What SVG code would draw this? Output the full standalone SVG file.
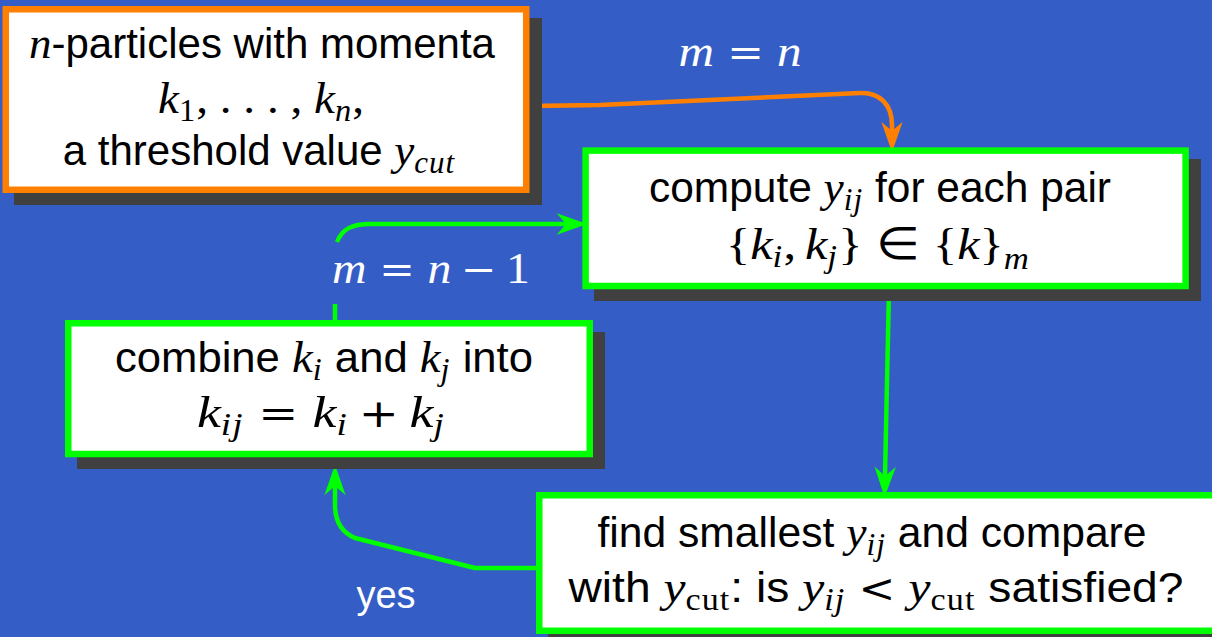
<svg xmlns="http://www.w3.org/2000/svg" width="1212" height="637" viewBox="0 0 1212 637">
<defs>
<style>
.bg{fill:#345EC6}
.sh{fill:#404040}
.box{fill:#FFFFFF;stroke-width:6.5}
.og{stroke:#FF8000}
.gr{stroke:#00FF00}
.t{font-family:"Liberation Sans",Arial,sans-serif;font-size:42px;fill:#000;text-anchor:middle}
.m{font-family:"Liberation Serif","Times New Roman",serif;font-style:italic;font-size:45px}
.r{font-family:"Liberation Serif","Times New Roman",serif;font-style:normal;font-size:45px}
.o{font-family:"DejaVu Serif",serif;font-style:normal;font-size:40px}
.s{font-size:31px;letter-spacing:1px}
.w{fill:#FFFFFF}
.c{fill:none;stroke-width:4.5;stroke-linejoin:round}
</style>
<marker id="ao" markerUnits="userSpaceOnUse" markerWidth="40" markerHeight="40" viewBox="-10 -10 30 20" refX="0" refY="0" orient="auto" overflow="visible">
<path d="M16,0 L-7,-8 L0,0 L-7,8 Z" fill="#FF8000"/>
</marker>
<marker id="ag" markerUnits="userSpaceOnUse" markerWidth="40" markerHeight="40" viewBox="-10 -10 30 20" refX="0" refY="0" orient="auto" overflow="visible">
<path d="M16,0 L-7,-8 L0,0 L-7,8 Z" fill="#00FF00"/>
</marker>
</defs>
<rect class="bg" x="0" y="0" width="1212" height="637"/>

<g id="connectors">
<path class="c og" d="M530,106 L600,105 L860,93 C880,92 892,105 892,125 L892,131" marker-end="url(#ao)"/>
<path class="c gr" d="M335,320 L335,304"/>
<path class="c gr" d="M337,242 C342,229 352,224 370,224 L566,224" marker-end="url(#ag)"/>
<path class="c gr" d="M889,289 L885,476" marker-end="url(#ag)"/>
<path class="c gr" d="M536,568 L475,568 L355,538 C341,532 335,521 335,505 L335,486" marker-end="url(#ag)"/>
<text class="t w" x="740" y="66" textLength="123" lengthAdjust="spacingAndGlyphs"><tspan class="m">m</tspan><tspan class="o" dx="12">=</tspan><tspan class="m" dx="12">n</tspan></text>
<text class="t w" x="431" y="283" textLength="198" lengthAdjust="spacingAndGlyphs"><tspan class="m">m</tspan><tspan class="o" dx="12">=</tspan><tspan class="m" dx="12">n</tspan><tspan class="o" dx="9">−</tspan><tspan class="r" dx="9">1</tspan></text>
<text class="t w" x="386" y="608" style="font-size:38px">yes</text>
</g>

<g id="input">
<rect class="sh" x="14" y="18" width="528" height="187"/>
<rect class="box og" x="5.75" y="9.25" width="520.5" height="180.5"/>
<text class="t" x="262" y="58"><tspan class="m">n</tspan>-particles with momenta</text>
<text class="t" x="261" y="113" textLength="206" lengthAdjust="spacingAndGlyphs"><tspan class="m">k</tspan><tspan class="r s" dy="8">1</tspan><tspan class="r" dy="-8">, . . . , </tspan><tspan class="m">k</tspan><tspan class="m s" dy="8">n</tspan><tspan class="r" dy="-8">,</tspan></text>
<text class="t" x="259" y="165">a threshold value <tspan class="m">y</tspan><tspan class="m s" dy="8">cut</tspan></text>
</g>

<g id="compute">
<rect class="sh" x="594" y="159" width="607" height="142"/>
<rect class="box gr" x="585.6" y="150.6" width="600" height="135.4"/>
<text class="t" x="880" y="202" textLength="462" lengthAdjust="spacingAndGlyphs">compute <tspan class="m">y</tspan><tspan class="m s" dy="8">ij</tspan><tspan dy="-8"> for each pair</tspan></text>
<text class="t" x="878" y="259" textLength="304" lengthAdjust="spacingAndGlyphs"><tspan class="r">{</tspan><tspan class="m">k</tspan><tspan class="m s" dy="8">i</tspan><tspan class="r" dy="-8">,</tspan><tspan class="m" dx="8">k</tspan><tspan class="m s" dy="8">j</tspan><tspan class="r" dy="-8">}</tspan><tspan class="r" dx="12">∈</tspan><tspan class="r" dx="12">{</tspan><tspan class="m">k</tspan><tspan class="r">}</tspan><tspan class="m s" dy="10">m</tspan></text>
</g>

<g id="combine">
<rect class="sh" x="77" y="332" width="528" height="137"/>
<rect class="box gr" x="68.25" y="323.25" width="521.5" height="130.75"/>
<text class="t" x="324" y="372" textLength="418" lengthAdjust="spacingAndGlyphs">combine <tspan class="m">k</tspan><tspan class="m s" dy="8">i</tspan><tspan dy="-8"> and </tspan><tspan class="m">k</tspan><tspan class="m s" dy="8">j</tspan><tspan dy="-8"> into</tspan></text>
<text class="t" x="321" y="427" textLength="248" lengthAdjust="spacingAndGlyphs"><tspan class="m">k</tspan><tspan class="m s" dy="8">ij</tspan><tspan class="o" dy="-8" dx="12">=</tspan><tspan class="m" dx="12">k</tspan><tspan class="m s" dy="8">i</tspan><tspan class="o" dy="-8" dx="9">+</tspan><tspan class="m" dx="9">k</tspan><tspan class="m s" dy="8">j</tspan></text>
</g>

<g id="compare">
<rect class="sh" x="548" y="504" width="690" height="142"/>
<rect class="box gr" x="539.25" y="495.25" width="690" height="135.5"/>
<text class="t" x="872" y="547" textLength="549" lengthAdjust="spacingAndGlyphs">find smallest <tspan class="m">y</tspan><tspan class="m s" dy="8">ij</tspan><tspan dy="-8"> and compare</tspan></text>
<text class="t" x="876" y="602" textLength="615" lengthAdjust="spacingAndGlyphs">with <tspan class="m">y</tspan><tspan class="r s" dy="8">cut</tspan><tspan dy="-8">: is </tspan><tspan class="m">y</tspan><tspan class="m s" dy="8">ij</tspan><tspan class="o" dy="-8" dx="12">&lt;</tspan><tspan class="m" dx="12">y</tspan><tspan class="r s" dy="8">cut</tspan><tspan dy="-8"> satisfied?</tspan></text>
</g>
</svg>
